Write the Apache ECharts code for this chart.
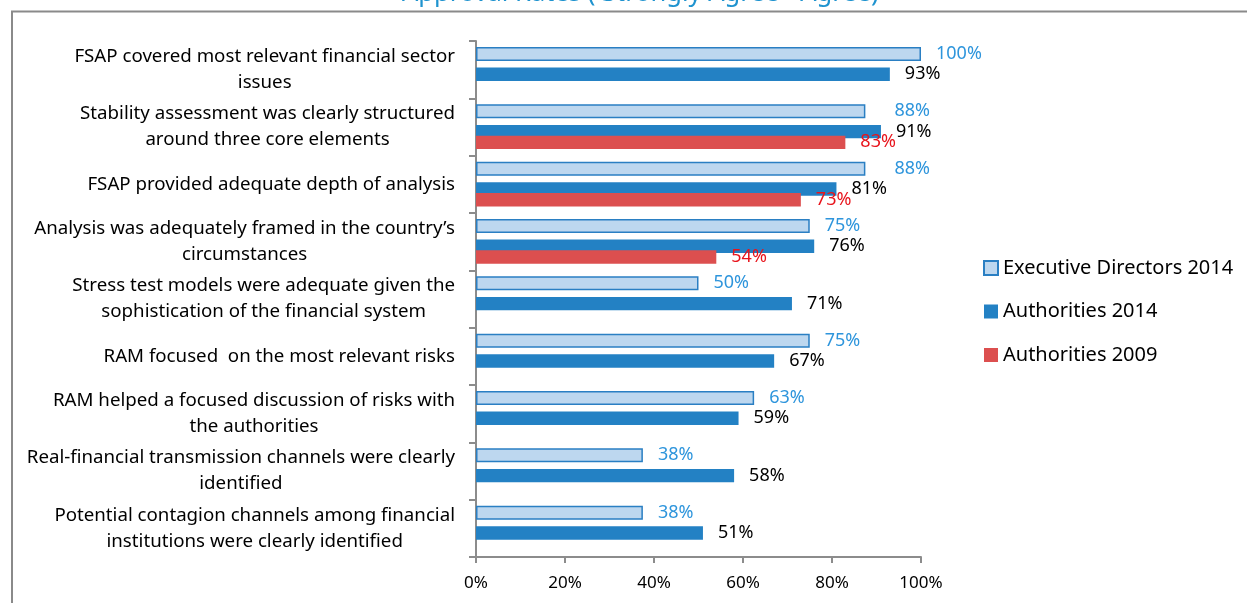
<!DOCTYPE html>
<html>
<head>
<meta charset="utf-8">
<script src="https://cdn.jsdelivr.net/npm/echarts@6/dist/echarts.min.js"></script>
<style>
  html, body { margin: 0; padding: 0; background: #fff; }
  #chart { width: 1247px; height: 603px; }
</style>
</head>
<body>
<div id="chart"></div>
<script>
var categories = [
  'FSAP covered most relevant financial sector\nissues',
  'Stability assessment was clearly structured\naround three core elements',
  'FSAP provided adequate depth of analysis',
  'Analysis was adequately framed in the country\u2019s\ncircumstances',
  'Stress test models were adequate given the\nsophistication of the financial system',
  'RAM focused  on the most relevant risks',
  'RAM helped a focused discussion of risks with\nthe authorities',
  'Real-financial transmission channels were clearly\nidentified',
  'Potential contagion channels among financial\ninstitutions were clearly identified'
];
var execDirectors2014 = [100, 87.5, 87.5, 75, 50, 75, 62.5, 37.5, 37.5];
var authorities2014 = [93, 91, 81, 76, 71, 67, 59, 58, 51];
var authorities2009 = ['-', 83, 73, 54, '-', '-', '-', '-', '-'];

var FONT = 'Noto Sans';
var myChart = echarts.init(document.getElementById('chart'));

// the main grid holds the visible axes; the other two only shift the bars
var gridBase = { left: 476, width: 445, height: 516, outerBoundsMode: 'none' };
function hiddenX(i) {
  return { type: 'value', gridIndex: i, min: 0, max: 100, show: false };
}
function hiddenY(i) {
  return { type: 'category', gridIndex: i, data: categories, inverse: true, show: false };
}
function pct(p) { return Math.round(p.value) + '%'; }

// in the original the two 88% labels were nudged right, clear of the 91%/81% ones
var edData = execDirectors2014.map(function (v, i) {
  if (i === 1 || i === 2) return { value: v, label: { offset: [14, 0] } };
  return v;
});

var option = {
  animation: false,
  textStyle: { fontFamily: FONT },
  title: {
    text: 'Approval Rates ( Strongly Agree+ Agree)',
    left: 397,
    top: -24,
    textStyle: { color: '#1f93cf', fontSize: 25.5, fontWeight: 'normal', fontFamily: FONT }
  },
  graphic: [{
    type: 'rect',
    shape: { x: 12, y: 11.5, width: 1400, height: 800 },
    style: { fill: 'none', stroke: '#8a8a8a', lineWidth: 2 },
    silent: true
  }],
  legend: {
    orient: 'vertical',
    left: 983,
    top: 258,
    padding: 0,
    itemWidth: 14,
    itemHeight: 14,
    itemGap: 23.5,
    icon: 'rect',
    textStyle: { fontSize: 20, color: '#000', fontFamily: FONT },
    data: ['Executive Directors 2014', 'Authorities 2014', 'Authorities 2009']
  },
  grid: [
    Object.assign({ top: 41 }, gridBase),
    Object.assign({ top: 25.3 }, gridBase),
    Object.assign({ top: 51 }, gridBase)
  ],
  xAxis: [
    {
      type: 'value', gridIndex: 0, min: 0, max: 100, interval: 20,
      axisLine: { show: true, lineStyle: { color: '#8c8c8c', width: 2 } },
      axisTick: { show: true, length: 6, lineStyle: { color: '#8c8c8c', width: 2 } },
      splitLine: { show: false },
      axisLabel: { formatter: '{value}%', fontSize: 17, color: '#000', margin: 18, fontFamily: FONT }
    },
    hiddenX(1),
    hiddenX(2)
  ],
  yAxis: [
    {
      type: 'category', gridIndex: 0, data: categories, inverse: true,
      axisLine: { show: true, lineStyle: { color: '#8c8c8c', width: 2 } },
      axisTick: { show: true, length: 7, lineStyle: { color: '#8c8c8c', width: 2 } },
      axisLabel: {
        margin: 21,
        align: 'right',
        color: '#000',
        fontSize: 18.7,
        lineHeight: 26,
        fontFamily: FONT,
        formatter: function (v) {
          return v.split('\n').map(function (l) { return '{c|' + l + '}'; }).join('\n');
        },
        rich: { c: { align: 'center', fontSize: 18.7, lineHeight: 26, color: '#000', fontFamily: FONT } }
      }
    },
    hiddenY(1),
    hiddenY(2)
  ],
  series: [
    {
      name: 'Executive Directors 2014',
      type: 'bar',
      xAxisIndex: 1, yAxisIndex: 1,
      barWidth: 14,
      data: edData,
      itemStyle: { color: '#bdd7ef', borderColor: '#2a7fc3', borderWidth: 1.5 },
      label: { show: true, position: 'right', distance: 15, formatter: pct,
        fontSize: 18, color: '#2e95dc', fontFamily: FONT }
    },
    {
      name: 'Authorities 2014',
      type: 'bar',
      xAxisIndex: 2, yAxisIndex: 2,
      barWidth: 13.4,
      barGap: '-20%',
      data: authorities2014,
      itemStyle: { color: '#2381c4' },
      label: { show: true, position: 'right', distance: 15, formatter: pct,
        fontSize: 18, color: '#000', fontFamily: FONT }
    },
    {
      name: 'Authorities 2009',
      type: 'bar',
      xAxisIndex: 2, yAxisIndex: 2,
      barWidth: 13.4,
      barGap: '-20%',
      data: authorities2009,
      itemStyle: { color: '#dc4f4f' },
      label: { show: true, position: 'right', distance: 15, formatter: pct,
        fontSize: 18, color: '#e8141c', fontFamily: FONT }
    }
  ]
};
myChart.setOption(option);
</script>
</body>
</html>
